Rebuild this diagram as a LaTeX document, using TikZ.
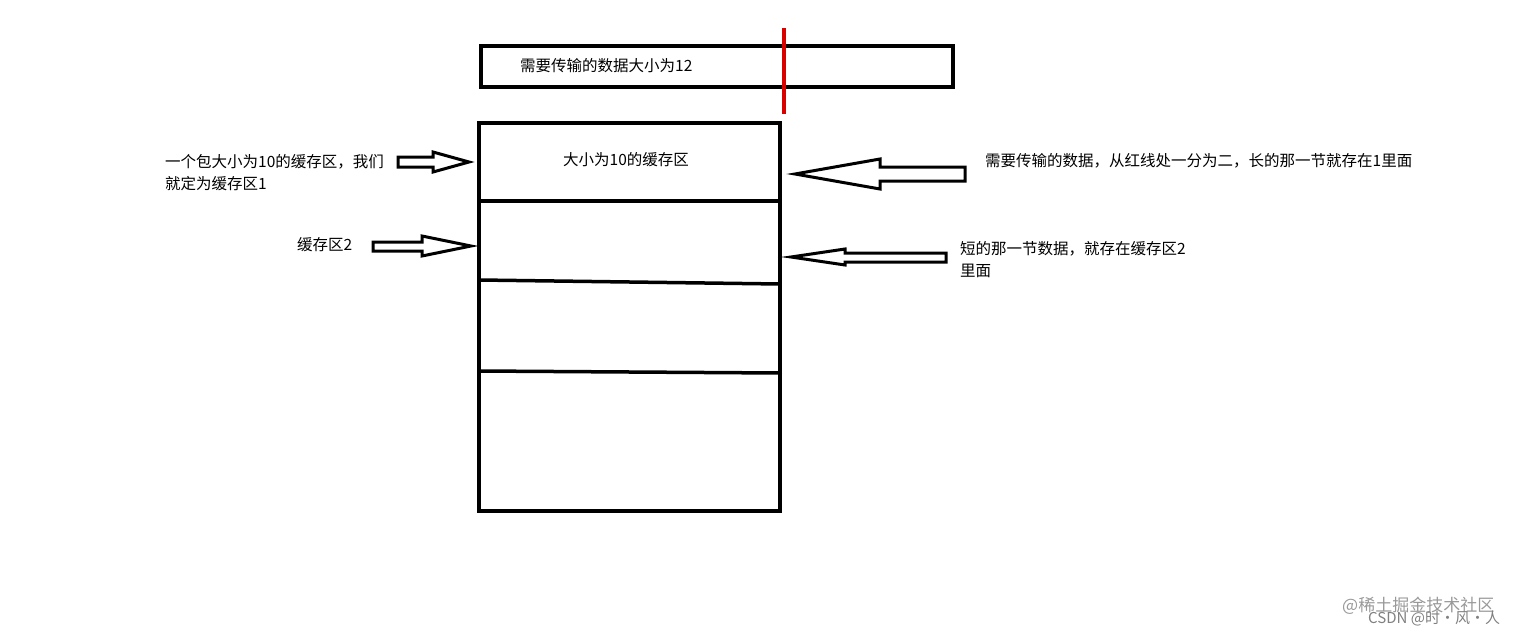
\documentclass[tikz,border=0pt]{standalone}
\usepackage{fontspec}
\setmainfont{Noto Sans CJK SC}
\begin{document}
\begin{tikzpicture}[x=1pt,y=-1pt,
  box/.style={line width=3.5pt,draw=black},
  barrow/.style={line width=3pt,draw=black,line join=miter},
  lbl/.style={anchor=west,inner sep=0pt,font=\fontsize{15.5}{22}\selectfont,align=left}]
\useasboundingbox (0,0) rectangle (1521,637);
\draw[box] (481,46) rectangle (953,87);
\node[lbl] (t0) at (520,66) {需要传输的数据大小为12};
\draw[line width=3.5pt,red!85!black] (784,28) -- (784,114);
\draw[box] (479,123) rectangle (780,511);
\draw[box] (479,201) -- (780,201);
\draw[box] (479,280) -- (780,284);
\draw[box] (479,371) -- (780,373);
\node[lbl,anchor=center] (t1) at (626,160) {大小为10的缓存区};
% left arrows
\draw[barrow] (398,157) -- (433,157) -- (433,152) -- (469,162) -- (433,172) -- (433,167) -- (398,167) -- cycle;
\draw[barrow] (373,242) -- (422,242) -- (422,236) -- (471,246) -- (422,256) -- (422,251) -- (373,251) -- cycle;
\node[lbl] (t2) at (165,173) {一个包大小为10的缓存区，我们\\就定为缓存区1};
\node[lbl] (t3) at (297,245) {缓存区2};
% right arrows
\draw[barrow] (965,167) -- (880,167) -- (880,159) -- (795,174) -- (880,189) -- (880,181) -- (965,181) -- cycle;
\draw[barrow] (946,253) -- (845,253) -- (845,249) -- (791,257) -- (845,265) -- (845,262) -- (946,262) -- cycle;
\node[lbl] (t4) at (985,161) {需要传输的数据，从红线处一分为二，长的那一节就存在1里面};
\node[lbl] (t5) at (960,260) {短的那一节数据，就存在缓存区2\\里面};
\node[lbl,text=black!40,font=\fontsize{17}{18}\selectfont] (w1) at (1342,606) {@稀土掘金技术社区};
\node[lbl,text=black!50,font=\fontsize{15}{16}\selectfont] (w2) at (1368,619) {CSDN @时·风·人};
\end{tikzpicture}
\end{document}
